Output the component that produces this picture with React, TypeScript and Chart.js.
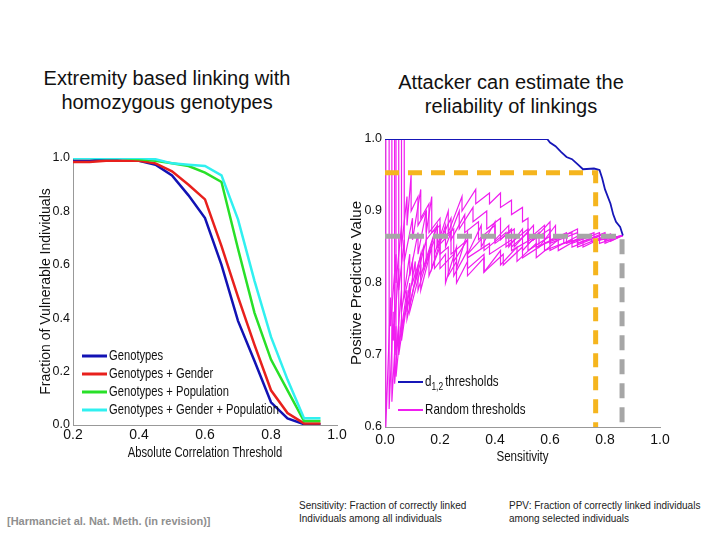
import React, { useEffect, useRef } from "react";
import { Chart, registerables } from "chart.js";
Chart.register(...registerables);

// ---------- Left chart data ----------
const thresholds = [0.2, 0.25, 0.3, 0.35, 0.4, 0.45, 0.5, 0.55, 0.6, 0.65, 0.7, 0.75, 0.8, 0.85, 0.9, 0.95];
const genotypes = [0.99, 0.99, 0.995, 0.99, 0.99, 0.975, 0.935, 0.86, 0.775, 0.6, 0.39, 0.24, 0.085, 0.025, 0.003, 0.003];
const genotypesGender = [0.985, 0.985, 0.99, 0.99, 0.99, 0.98, 0.95, 0.9, 0.845, 0.67, 0.48, 0.3, 0.13, 0.045, 0.006, 0.006];
const genotypesPopulation = [1.0, 1.0, 1.0, 1.0, 0.995, 0.99, 0.98, 0.97, 0.945, 0.91, 0.66, 0.42, 0.245, 0.13, 0.015, 0.015];
const genotypesGenderPopulation = [1.0, 1.0, 1.0, 1.0, 1.0, 0.995, 0.98, 0.975, 0.97, 0.935, 0.77, 0.54, 0.33, 0.17, 0.025, 0.025];
const leftXTicks = [0.2, 0.4, 0.6, 0.8, 1.0];
const leftYTicks = [0, 0.2, 0.4, 0.6, 0.8, 1.0];

// ---------- Right chart data (sensitivity, PPV) ----------
const d12Thresholds: [number, number][] = [
  [0, 1.0], [0.59, 1.0], [0.6, 0.995], [0.62, 0.99], [0.64, 0.982], [0.66, 0.975], [0.68, 0.972], [0.7, 0.965],
  [0.72, 0.958], [0.76, 0.959], [0.78, 0.957], [0.79, 0.945], [0.8, 0.93], [0.82, 0.91], [0.83, 0.895],
  [0.84, 0.885], [0.855, 0.878], [0.865, 0.866],
];
const random1: [number, number][] = [
  [0.003, 1.0], [0.003, 0.6], [0.02, 0.78], [0.02, 0.74], [0.04, 0.84], [0.04, 0.8], [0.06, 0.88], [0.06, 0.85],
  [0.08, 0.92], [0.08, 0.88], [0.095, 0.95], [0.095, 0.9], [0.12, 0.92], [0.12, 0.88], [0.15, 0.9], [0.15, 0.86],
  [0.19, 0.88], [0.19, 0.85], [0.24, 0.87], [0.24, 0.84], [0.3, 0.86], [0.3, 0.835], [0.38, 0.855], [0.38, 0.84],
  [0.46, 0.86], [0.46, 0.845], [0.55, 0.865], [0.55, 0.85], [0.65, 0.865], [0.65, 0.855], [0.75, 0.865],
  [0.75, 0.858], [0.865, 0.866],
];
const random2: [number, number][] = [
  [0.015, 1.0], [0.015, 0.625], [0.03, 0.76], [0.03, 0.72], [0.05, 0.82], [0.05, 0.79], [0.07, 0.86], [0.07, 0.83],
  [0.1, 0.89], [0.1, 0.86], [0.13, 0.93], [0.13, 0.89], [0.16, 0.91], [0.16, 0.87], [0.2, 0.89], [0.2, 0.86],
  [0.25, 0.875], [0.25, 0.83], [0.3, 0.86], [0.3, 0.84], [0.36, 0.865], [0.36, 0.845], [0.44, 0.87], [0.44, 0.85],
  [0.52, 0.875], [0.52, 0.855], [0.6, 0.875], [0.6, 0.855], [0.7, 0.87], [0.7, 0.855], [0.8, 0.868], [0.8, 0.858],
  [0.865, 0.866],
];
const random3: [number, number][] = [
  [0.025, 1.0], [0.025, 0.635], [0.04, 0.74], [0.04, 0.7], [0.06, 0.79], [0.06, 0.76], [0.09, 0.84], [0.09, 0.81],
  [0.12, 0.87], [0.12, 0.84], [0.15, 0.9], [0.15, 0.87], [0.17, 0.92], [0.17, 0.87], [0.2, 0.88], [0.2, 0.84],
  [0.23, 0.85], [0.23, 0.81], [0.26, 0.83], [0.26, 0.8], [0.3, 0.83], [0.3, 0.81], [0.36, 0.835], [0.36, 0.815],
  [0.43, 0.84], [0.43, 0.825], [0.5, 0.85], [0.5, 0.835], [0.58, 0.855], [0.58, 0.845], [0.68, 0.86], [0.68, 0.85],
  [0.78, 0.865], [0.78, 0.855], [0.865, 0.866],
];
const random4: [number, number][] = [
  [0.04, 1.0], [0.04, 0.67], [0.06, 0.75], [0.06, 0.72], [0.09, 0.8], [0.09, 0.77], [0.13, 0.84], [0.13, 0.81],
  [0.18, 0.87], [0.18, 0.84], [0.23, 0.9], [0.23, 0.87], [0.28, 0.92], [0.28, 0.9], [0.33, 0.93], [0.33, 0.91],
  [0.38, 0.925], [0.38, 0.91], [0.42, 0.925], [0.42, 0.905], [0.46, 0.915], [0.46, 0.895], [0.5, 0.905],
  [0.5, 0.885], [0.52, 0.89], [0.52, 0.86], [0.58, 0.88], [0.58, 0.855], [0.66, 0.87], [0.66, 0.855],
  [0.76, 0.87], [0.76, 0.858], [0.865, 0.866],
];
const random5: [number, number][] = [
  [0.06, 1.0], [0.06, 0.735], [0.09, 0.79], [0.09, 0.76], [0.13, 0.82], [0.13, 0.79], [0.17, 0.85], [0.17, 0.82],
  [0.22, 0.88], [0.22, 0.85], [0.27, 0.9], [0.27, 0.875], [0.32, 0.905], [0.32, 0.885], [0.37, 0.9], [0.37, 0.875],
  [0.42, 0.89], [0.42, 0.86], [0.46, 0.875], [0.46, 0.85], [0.52, 0.87], [0.52, 0.845], [0.6, 0.865], [0.6, 0.845],
  [0.7, 0.865], [0.7, 0.85], [0.8, 0.865], [0.8, 0.855], [0.865, 0.866],
];
const random6: [number, number][] = [
  [0.07, 1.0], [0.07, 0.78], [0.1, 0.83], [0.1, 0.8], [0.14, 0.85], [0.14, 0.82], [0.18, 0.86], [0.18, 0.82],
  [0.22, 0.84], [0.22, 0.8], [0.26, 0.85], [0.26, 0.82], [0.3, 0.87], [0.3, 0.84], [0.35, 0.88], [0.35, 0.85],
  [0.4, 0.885], [0.4, 0.86], [0.45, 0.88], [0.45, 0.85], [0.5, 0.875], [0.5, 0.845], [0.56, 0.87], [0.56, 0.85],
  [0.62, 0.88], [0.62, 0.86], [0.7, 0.875], [0.7, 0.855], [0.8, 0.87], [0.8, 0.86], [0.865, 0.866],
];
const random7: [number, number][] = [
  [0.05, 1.0], [0.05, 0.7], [0.08, 0.78], [0.08, 0.75], [0.12, 0.82], [0.12, 0.79], [0.16, 0.84], [0.16, 0.81],
  [0.2, 0.85], [0.2, 0.82], [0.25, 0.84], [0.25, 0.81], [0.3, 0.845], [0.3, 0.82], [0.36, 0.84], [0.36, 0.815],
  [0.42, 0.845], [0.42, 0.825], [0.48, 0.85], [0.48, 0.83], [0.55, 0.855], [0.55, 0.835], [0.63, 0.86],
  [0.63, 0.845], [0.72, 0.865], [0.72, 0.85], [0.82, 0.868], [0.82, 0.858], [0.865, 0.866],
];
const random8: [number, number][] = [
  [0.035, 1.0], [0.035, 0.66], [0.05, 0.74], [0.05, 0.71], [0.08, 0.79], [0.08, 0.76], [0.11, 0.83], [0.11, 0.8],
  [0.15, 0.86], [0.15, 0.83], [0.19, 0.88], [0.19, 0.85], [0.24, 0.89], [0.24, 0.86], [0.29, 0.895], [0.29, 0.87],
  [0.34, 0.885], [0.34, 0.86], [0.4, 0.88], [0.4, 0.855], [0.47, 0.875], [0.47, 0.85], [0.54, 0.88], [0.54, 0.86],
  [0.6, 0.885], [0.6, 0.86], [0.68, 0.87], [0.68, 0.855], [0.78, 0.87], [0.78, 0.86], [0.865, 0.866],
];
const randomCurves = [random1, random2, random3, random4, random5, random6, random7, random8];
const orangeGuide: [number, number][] = [[0, 0.953], [0.766, 0.953], [0.766, 0.6]];
const grayGuide: [number, number][] = [[0, 0.865], [0.862, 0.865], [0.862, 0.6]];
const rightXTicks = [0, 0.2, 0.4, 0.6, 0.8, 1.0];
const rightYTicks = [0.6, 0.7, 0.8, 0.9, 1.0];

const ARIAL = '"Liberation Sans", Arial, sans-serif';

const toXY = (pts: [number, number][]) => pts.map(([x, y]) => ({ x, y }));

// Draws the in-plot legend and the horizontally condensed x-axis title
const inlineLegend = {
  id: "inlineLegend",
  afterDraw(chart: any, _args: any, opts: any) {
    if (!opts || !opts.items) return;
    const ctx = chart.ctx;
    const sx = opts.scaleX;
    const drawText = (t: string, x: number, y: number, font: string) => {
      ctx.save();
      ctx.font = font;
      ctx.translate(x, y);
      ctx.scale(sx, 1);
      ctx.fillText(t, 0, 0);
      const w = ctx.measureText(t).width * sx;
      ctx.restore();
      return w;
    };
    ctx.save();
    ctx.fillStyle = "#111";
    ctx.textBaseline = "middle";
    for (const it of opts.items) {
      ctx.strokeStyle = it.color;
      ctx.lineWidth = opts.lineWidth;
      ctx.beginPath();
      ctx.moveTo(it.x, it.y);
      ctx.lineTo(it.x + opts.sampleWidth, it.y);
      ctx.stroke();
      let tx = it.x + opts.sampleWidth + 2;
      tx += drawText(it.label, tx, it.y, opts.font);
      if (it.sub) {
        tx += drawText(it.sub, tx, it.y + 5, opts.subFont) + 2;
        drawText(it.after, tx, it.y, opts.font);
      }
    }
    if (opts.xTitle) {
      const ca = chart.chartArea;
      ctx.textAlign = "center";
      drawText(opts.xTitle.text, (ca.left + ca.right) / 2, opts.xTitle.y, opts.xTitle.font);
    }
    ctx.restore();
  },
};

function fixedTicks(values: number[]) {
  return (scale: any) => {
    scale.ticks = values.map((v) => ({ value: v }));
  };
}

function LeftChart() {
  const ref = useRef<HTMLCanvasElement>(null);
  useEffect(() => {
    const series = [
      { label: "Genotypes", data: genotypes, color: "#1212b4", order: 3 },
      { label: "Genotypes + Gender", data: genotypesGender, color: "#e8201c", order: 2 },
      { label: "Genotypes + Population", data: genotypesPopulation, color: "#28e028", order: 1 },
      { label: "Genotypes + Gender + Population", data: genotypesGenderPopulation, color: "#30f0f0", order: 0 },
    ];
    const chart = new Chart(ref.current!, {
      type: "line",
      data: {
        datasets: series.map((s) => ({
          label: s.label,
          data: thresholds.map((t, i) => ({ x: t, y: s.data[i] })),
          borderColor: s.color,
          borderWidth: 2.5,
          pointRadius: 0,
          tension: 0,
          order: s.order,
        })),
      },
      options: {
        animation: false,
        responsive: false,
        layout: { padding: { top: 18, right: 14, left: 0, bottom: 0 } },
        plugins: {
          legend: { display: false },
          tooltip: { enabled: false },
          inlineLegend: {
            lineWidth: 3,
            sampleWidth: 25,
            scaleX: 0.8,
            font: `14px ${ARIAL}`,
            items: series.map((s, i) => ({ label: s.label, color: s.color, x: 44, y: 216 + i * 18 })),
            xTitle: { text: "Absolute Correlation Threshold", y: 313, font: `14px ${ARIAL}` },
          },
        } as any,
        scales: {
          x: {
            type: "linear",
            min: 0.2,
            max: 1.0,
            afterFit: (s: any) => { s.height = 37; },
            afterBuildTicks: fixedTicks(leftXTicks),
            grid: { display: false, drawTicks: false },
            border: { display: true, color: "#999" },
            ticks: { color: "#111", font: { family: ARIAL, size: 14 }, padding: 2, callback: (v: any) => Number(v).toFixed(1), maxRotation: 0 },
          },
          y: {
            type: "linear",
            min: 0,
            max: 1.0,
            afterFit: (s: any) => { s.width = 35; },
            afterBuildTicks: fixedTicks(leftYTicks),
            grid: { display: false, drawTicks: false },
            border: { display: true, color: "#999" },
            ticks: { color: "#111", font: { family: ARIAL, size: 12.5 }, padding: 3, callback: (v: any) => Number(v).toFixed(1) },
            title: { display: true, text: "Fraction of Vulnerable Individuals", color: "#111", font: { family: ARIAL, size: 14 }, padding: 0 },
          },
        },
      },
      plugins: [inlineLegend as any],
    });
    return () => chart.destroy();
  }, []);
  return <canvas ref={ref} width={313} height={322} style={{ position: "absolute", left: 38, top: 140, width: 313, height: 322 }} />;
}

function RightChart() {
  const ref = useRef<HTMLCanvasElement>(null);
  useEffect(() => {
    const datasets: any[] = [
      { label: "d1,2 thresholds", data: toXY(d12Thresholds), borderColor: "#1616b8", borderWidth: 1.8, order: 0 },
      { label: "orange", data: toXY(orangeGuide), borderColor: "#f5b51e", borderWidth: 5, borderDash: [14, 9], order: 1 },
      { label: "gray", data: toXY(grayGuide), borderColor: "#a6a6a6", borderWidth: 5, borderDash: [15, 9], order: 2 },
      ...randomCurves.map((c, i) => ({ label: "Random thresholds " + (i + 1), data: toXY(c), borderColor: "#f01ef0", borderWidth: 1.2, order: 3 })),
    ].map((d) => ({ ...d, pointRadius: 0, tension: 0 }));
    const chart = new Chart(ref.current!, {
      type: "line",
      data: { datasets },
      options: {
        animation: false,
        responsive: false,
        layout: { padding: { top: 19, right: 15, left: 0, bottom: 0 } },
        plugins: {
          legend: { display: false },
          tooltip: { enabled: false },
          inlineLegend: {
            lineWidth: 2,
            sampleWidth: 25,
            scaleX: 0.8,
            font: `14.5px ${ARIAL}`,
            subFont: `10.5px ${ARIAL}`,
            items: [
              { label: "d", sub: "1,2", after: "thresholds", color: "#1616b8", x: 50, y: 262 },
              { label: "Random thresholds", color: "#f01ef0", x: 50, y: 290 },
            ],
            xTitle: { text: "Sensitivity", y: 337, font: `14.5px ${ARIAL}` },
          },
        } as any,
        scales: {
          x: {
            type: "linear",
            min: 0,
            max: 1.0,
            afterFit: (s: any) => { s.height = 38; },
            afterBuildTicks: fixedTicks(rightXTicks),
            grid: { display: false, drawTicks: false },
            border: { display: true, color: "#999" },
            ticks: { color: "#111", font: { family: ARIAL, size: 14 }, padding: 5, callback: (v: any) => Number(v).toFixed(1), maxRotation: 0 },
          },
          y: {
            type: "linear",
            min: 0.6,
            max: 1.0,
            afterFit: (s: any) => { s.width = 37; },
            afterBuildTicks: fixedTicks(rightYTicks),
            grid: { display: false, drawTicks: false },
            border: { display: true, color: "#999" },
            ticks: { color: "#111", font: { family: ARIAL, size: 12.5 }, padding: 3, callback: (v: any) => Number(v).toFixed(1) },
            title: { display: true, text: "Positive Predictive Value", color: "#111", font: { family: ARIAL, size: 15 }, padding: 0 },
          },
        },
      },
      plugins: [inlineLegend as any],
    });
    return () => chart.destroy();
  }, []);
  return <canvas ref={ref} width={327} height={345} style={{ position: "absolute", left: 348, top: 120, width: 327, height: 345 }} />;
}

export default function App() {
  const titleStyle: React.CSSProperties = {
    position: "absolute",
    fontFamily: ARIAL,
    fontSize: 20,
    lineHeight: "24px",
    textAlign: "center",
    color: "#111",
    whiteSpace: "nowrap",
  };
  const noteStyle: React.CSSProperties = {
    position: "absolute",
    fontFamily: ARIAL,
    fontSize: 10,
    lineHeight: "13px",
    color: "#222",
    whiteSpace: "nowrap",
  };
  return (
    <div style={{ position: "fixed", left: 0, top: 0, width: 720, height: 540, background: "#fff", overflow: "hidden" }}>
      <div style={{ ...titleStyle, left: 17, width: 300, top: 66 }}>
        Extremity based linking with<br />homozygous genotypes
      </div>
      <div style={{ ...titleStyle, left: 361, width: 300, top: 70 }}>
        Attacker can estimate the<br />reliability of linkings
      </div>
      <LeftChart />
      <RightChart />
      <div style={{ ...noteStyle, left: 299, top: 499 }}>
        Sensitivity: Fraction of correctly linked<br />Individuals among all individuals
      </div>
      <div style={{ ...noteStyle, left: 509, top: 499 }}>
        PPV: Fraction of correctly linked individuals<br />among selected individuals
      </div>
      <div style={{ ...noteStyle, left: 7, top: 515, color: "#8f8f8f", fontWeight: "bold", fontSize: 11 }}>
        [Harmanciet al. Nat. Meth. (in revision)]
      </div>
    </div>
  );
}
